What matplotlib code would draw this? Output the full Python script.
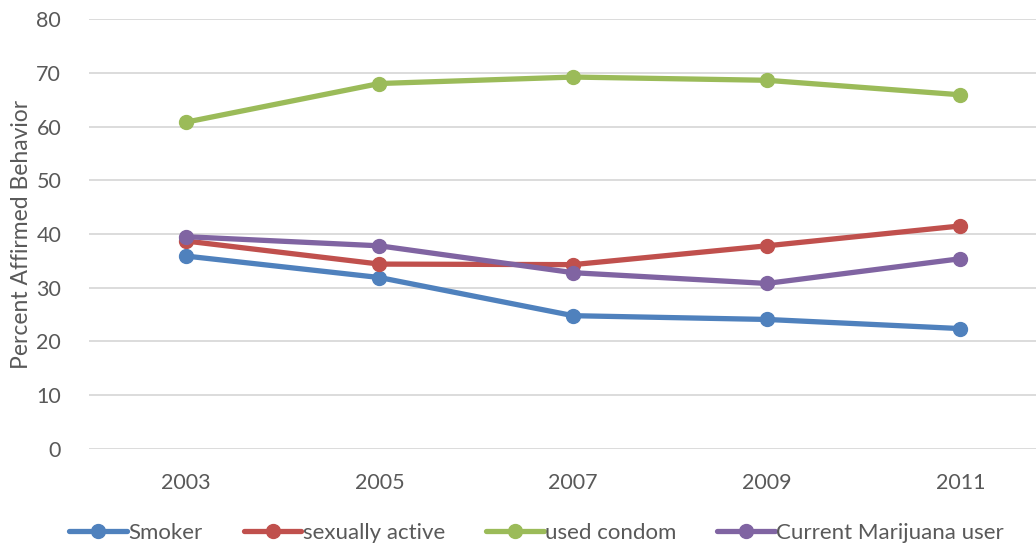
import matplotlib.pyplot as plt

# survey years and percent of students affirming each behaviour
years = ['2003', '2005', '2007', '2009', '2011']
smoker = [35.9, 31.9, 24.8, 24.1, 22.4]
sexually_active = [38.7, 34.4, 34.3, 37.8, 41.5]
used_condom = [60.8, 68.0, 69.2, 68.6, 65.9]
marijuana = [39.5, 37.8, 32.8, 30.8, 35.4]

series = [
    ('Smoker', smoker, '#4F81BD'),
    ('sexually active', sexually_active, '#C0504D'),
    ('used condom', used_condom, '#9BBB59'),
    ('Current Marijuana user', marijuana, '#8064A2'),
]

plt.rcParams['font.family'] = ['Lato', 'DejaVu Sans']

fig = plt.figure(figsize=(10.36, 5.48), dpi=100)
ax = fig.add_axes([0.0859, 0.1807, 0.9141, 0.7846])

x = range(len(years))
for name, vals, col in series:
    ax.plot(x, vals, color=col, lw=3.8, marker='o', ms=10, label=name,
            solid_capstyle='round')

ax.set_ylim(0, 80)
ax.set_yticks(range(0, 81, 10))
ax.set_xlim(-0.5, 4.39)
ax.set_xticks(list(x))
ax.set_xticklabels(years)
ax.grid(axis='y', color='#D9D9D9', lw=1.3)
ax.set_axisbelow(True)
for s in ax.spines.values():
    s.set_visible(False)
ax.tick_params(length=0, labelsize=15.5, colors='#595959')
ax.tick_params(axis='x', pad=17)
ax.tick_params(axis='y', pad=20)
ax.set_ylabel('Percent Affirmed Behavior', fontsize=16.5, color='#595959',
              labelpad=3)

fig.legend(loc='center', bbox_to_anchor=(0.518, 0.027), ncol=4, frameon=False,
           fontsize=16, labelcolor='#595959', handlelength=2.6,
           handletextpad=0.05, columnspacing=1.85, markerscale=1.0)

fig.savefig('out.png', dpi=100)
